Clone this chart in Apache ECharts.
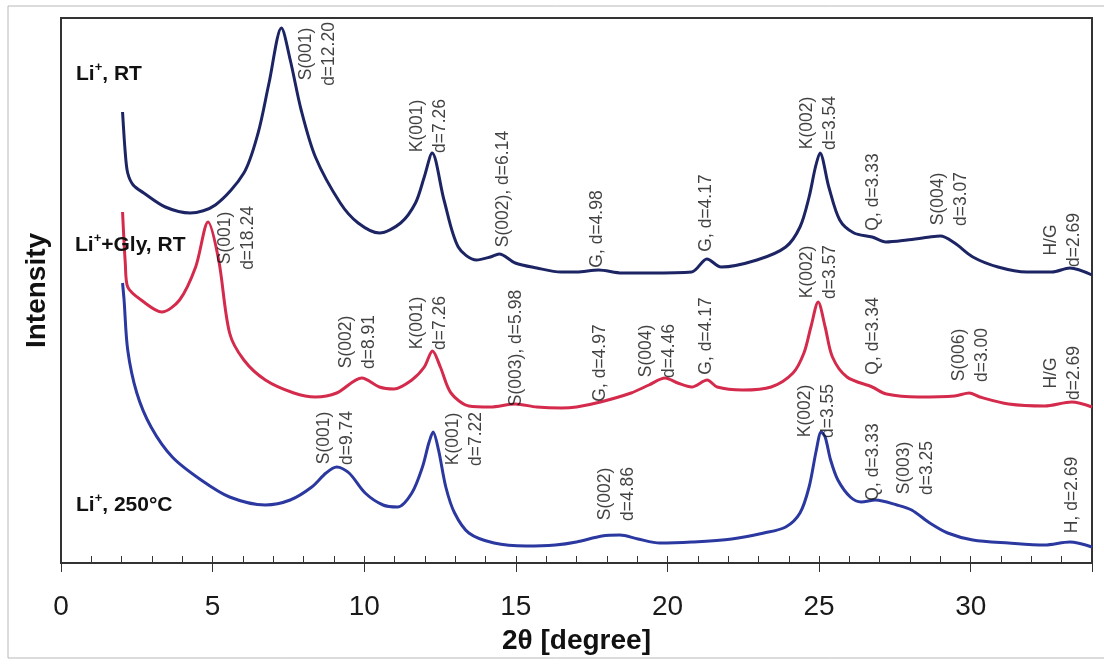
<!DOCTYPE html>
<html>
<head>
<meta charset="utf-8">
<title>XRD</title>
<script src="https://cdn.jsdelivr.net/npm/echarts@6/dist/echarts.min.js"></script>
<style>
  html, body { margin: 0; padding: 0; background: #fff; }
  #main { width: 1104px; height: 664px; }
</style>
</head>
<body>
<div id="main"></div>
<script>
// x ticks (2theta, degree)
const xTicks = [0, 5, 10, 15, 20, 25, 30];

// Li+, RT  (navy)  [2theta, intensity a.u.]
const liRT = [
  [2.03, 451], [2.12, 410], [2.2, 390], [2.38, 378], [2.73, 370], [3.44, 356], [4.26, 350], [5.09, 358],
  [6.03, 390], [6.5, 430], [6.86, 480], [7.27, 535], [7.56, 503], [7.92, 453], [8.39, 406],
  [9.21, 360], [9.8, 340], [10.5, 330], [11.2, 340], [11.69, 360], [11.98, 386], [12.24, 410],
  [12.63, 363], [13.1, 316], [13.7, 303], [14.16, 306], [14.45, 309], [14.98, 300], [15.69, 295],
  [16.49, 291], [17.0, 291], [17.73, 293], [18.5, 290], [19.4, 290], [20.8, 291], [21.3, 304],
  [21.77, 296], [22.95, 303], [23.9, 316], [24.37, 336], [24.67, 366], [24.88, 396], [25.03, 410],
  [25.32, 376], [25.68, 343], [26.15, 330], [26.75, 326], [27.2, 321], [27.9, 323], [28.65, 326],
  [29.0, 327], [29.47, 320], [30.07, 306], [30.9, 296], [31.85, 291], [32.68, 291], [33.27, 295],
  [34.0, 288]
];

// Li+ + Gly, RT  (red)
const liGly = [
  [2.03, 351], [2.12, 300], [2.2, 276], [2.73, 261], [3.32, 251], [3.91, 263], [4.44, 296], [4.85, 341],
  [5.2, 303], [5.56, 230], [6.03, 203], [6.74, 183], [7.68, 170], [8.39, 166], [9.09, 170],
  [9.92, 185], [10.5, 176], [10.98, 174], [11.57, 183], [11.98, 196], [12.25, 212], [12.51, 196],
  [12.86, 170], [13.45, 157], [14.16, 156], [14.98, 159], [15.69, 156], [16.5, 155], [17.0, 156],
  [17.79, 161], [18.8, 170], [19.39, 178], [19.92, 185], [20.34, 180], [20.8, 176], [21.31, 183],
  [21.64, 176], [22.47, 173], [23.42, 176], [24.14, 190], [24.5, 210], [24.73, 236], [24.97, 261],
  [25.2, 236], [25.44, 206], [25.92, 186], [26.75, 176], [27.22, 169], [28.28, 166], [29.47, 167],
  [29.95, 170], [30.3, 166], [31.25, 159], [32.44, 157], [33.33, 161], [34.0, 156]
];

// Li+, 250 C  (blue)
const li250 = [
  [2.03, 280], [2.08, 263], [2.2, 213], [2.5, 170], [2.97, 136], [3.67, 106], [4.62, 83],
  [5.56, 66], [6.74, 58], [7.56, 63], [8.27, 76], [8.74, 90], [9.09, 96], [9.5, 90],
  [10.03, 70], [10.62, 58], [11.1, 56], [11.57, 70], [11.92, 96], [12.13, 120], [12.27, 131],
  [12.45, 113], [12.69, 76], [12.98, 50], [13.45, 30], [14.28, 20], [15.34, 17], [16.3, 18],
  [17.0, 21], [17.84, 27], [18.43, 28], [19.03, 24], [19.75, 20], [20.8, 21], [22.12, 24],
  [23.18, 30], [23.9, 36], [24.37, 50], [24.67, 76], [24.91, 113], [25.07, 131], [25.2, 126],
  [25.38, 103], [25.62, 83], [26.03, 66], [26.39, 61], [26.86, 63], [27.57, 58], [28.05, 53],
  [28.65, 40], [29.24, 30], [30.07, 23], [31.25, 20], [32.44, 18], [33.27, 21], [34.0, 16]
];

// peak labels: [2theta, intensity, text]
const peakLabels = [
  [8.48, 509, 'S(001)\nd=12.20'], [12.12, 437, 'K(001)\nd=7.26'], [14.58, 374, 'S(002), d=6.14'],
  [17.68, 334, 'G, d=4.98'], [21.28, 350, 'G, d=4.17'], [25.0, 440, 'K(002)\nd=3.54'],
  [26.8, 371, 'Q, d=3.33'], [29.29, 364, 'S(004)\nd=3.07'], [33.03, 323, 'H/G\nd=2.69'],

  [5.79, 325, 'S(001)\nd=18.24'], [9.77, 221, 'S(002)\nd=8.91'], [12.12, 240, 'K(001)\nd=7.26'],
  [15.0, 215, 'S(003), d=5.98'], [17.78, 200, 'G, d=4.97'], [19.68, 212, 'S(004)\nd=4.46'],
  [21.26, 227, 'G, d=4.17'], [24.97, 291, 'K(002)\nd=3.57'], [26.8, 227, 'Q, d=3.34'],
  [30.0, 208, 'S(006)\nd=3.00'], [33.03, 190, 'H/G\nd=2.69'],

  [9.06, 125, 'S(001)\nd=9.74'], [13.32, 124, 'K(001)\nd=7.22'], [18.34, 69, 'S(002)\nd=4.86'],
  [24.93, 152, 'K(002)\nd=3.55'], [26.8, 101, 'Q, d=3.33'], [28.17, 95, 'S(003)\nd=3.25'],
  [33.33, 68, 'H, d=2.69']
];

const FONT = 'Liberation Sans, Arial, sans-serif';

function sampleTitle(text, left, top) {
  return {
    text: text, left: left, top: top,
    textStyle: {
      rich: {
        a: { fontFamily: FONT, fontWeight: 'bold', fontSize: 21, lineHeight: 24, color: '#111' },
        s: { fontFamily: FONT, fontWeight: 'bold', fontSize: 13, lineHeight: 24, color: '#111', padding: [0, 0, 14, 0] }
      }
    }
  };
}

var chart = echarts.init(document.getElementById('main'), null, { renderer: 'canvas' });
chart.setOption({
  backgroundColor: '#fff',
  animation: false,
  title: [
    sampleTitle('{a|Li}{s|+}{a|, RT}', 71, 57),
    sampleTitle('{a|Li}{s|+}{a|+Gly, RT}', 70, 228),
    sampleTitle('{a|Li}{s|+}{a|, 250°C}', 71, 488)
  ],
  graphic: [{
    type: 'rect', silent: true, z: -1,
    shape: { x: 8, y: 6, width: 1120, height: 652 },
    style: { fill: 'none', stroke: '#b8b8b8', lineWidth: 1 }
  }],
  grid: { left: 61, top: 18, right: 12, bottom: 101, show: true, borderColor: '#333', borderWidth: 2, backgroundColor: 'transparent' },
  xAxis: [{
    type: 'value', min: 0, max: 34, interval: 5,
    name: '2θ [degree]', nameLocation: 'middle', nameGap: 64,
    nameTextStyle: { fontFamily: FONT, fontWeight: 'bold', fontSize: 28, color: '#111' },
    axisLine: { show: true, lineStyle: { color: '#333', width: 2 } },
    axisTick: { show: true, inside: true, length: 7, lineStyle: { color: '#333', width: 1 } },
    minorTick: { show: true, splitNumber: 5, length: 7, lineStyle: { color: '#333', width: 1 } },
    axisLabel: {
      fontFamily: FONT, fontSize: 28, color: '#1a1a1a', margin: 30,
      formatter: function (v) { return xTicks.indexOf(v) >= 0 ? String(v) : ''; }
    },
    splitLine: { show: false }
  }, {
    type: 'value', min: 0, max: 34, interval: 5, position: 'bottom', gridIndex: 0,
    axisLine: { show: false },
    axisTick: { show: true, inside: false, length: 9, lineStyle: { color: '#333', width: 1 } },
    axisLabel: { show: false },
    splitLine: { show: false }
  }],
  yAxis: {
    type: 'value', min: 0, max: 545,
    name: 'Intensity', nameLocation: 'middle', nameGap: 10,
    nameTextStyle: { fontFamily: FONT, fontWeight: 'bold', fontSize: 28, color: '#111' },
    axisLine: { show: true, lineStyle: { color: '#333', width: 2 } },
    axisTick: { show: false },
    axisLabel: { show: false },
    splitLine: { show: false }
  },
  series: [
    { name: 'Li+, RT', type: 'line', data: liRT, showSymbol: false, smooth: 0.3,
      lineStyle: { color: '#1c2464', width: 3 } },
    { name: 'Li+ +Gly, RT', type: 'line', data: liGly, showSymbol: false, smooth: 0.3,
      lineStyle: { color: '#d42a4c', width: 3 } },
    { name: 'Li+, 250C', type: 'line', data: li250, showSymbol: false, smooth: 0.3,
      lineStyle: { color: '#2a38a0', width: 3 } },
    {
      name: 'peaks', type: 'scatter', data: peakLabels, symbolSize: 0, silent: true, z: 5,
      encode: { x: 0, y: 1 },
      label: {
        show: true, position: 'inside', rotate: 90, align: 'center', verticalAlign: 'middle',
        fontFamily: FONT, fontSize: 17.5, lineHeight: 23, color: '#111',
        formatter: function (p) { return p.value[2]; }
      }
    }
  ]
});
</script>
</body>
</html>
